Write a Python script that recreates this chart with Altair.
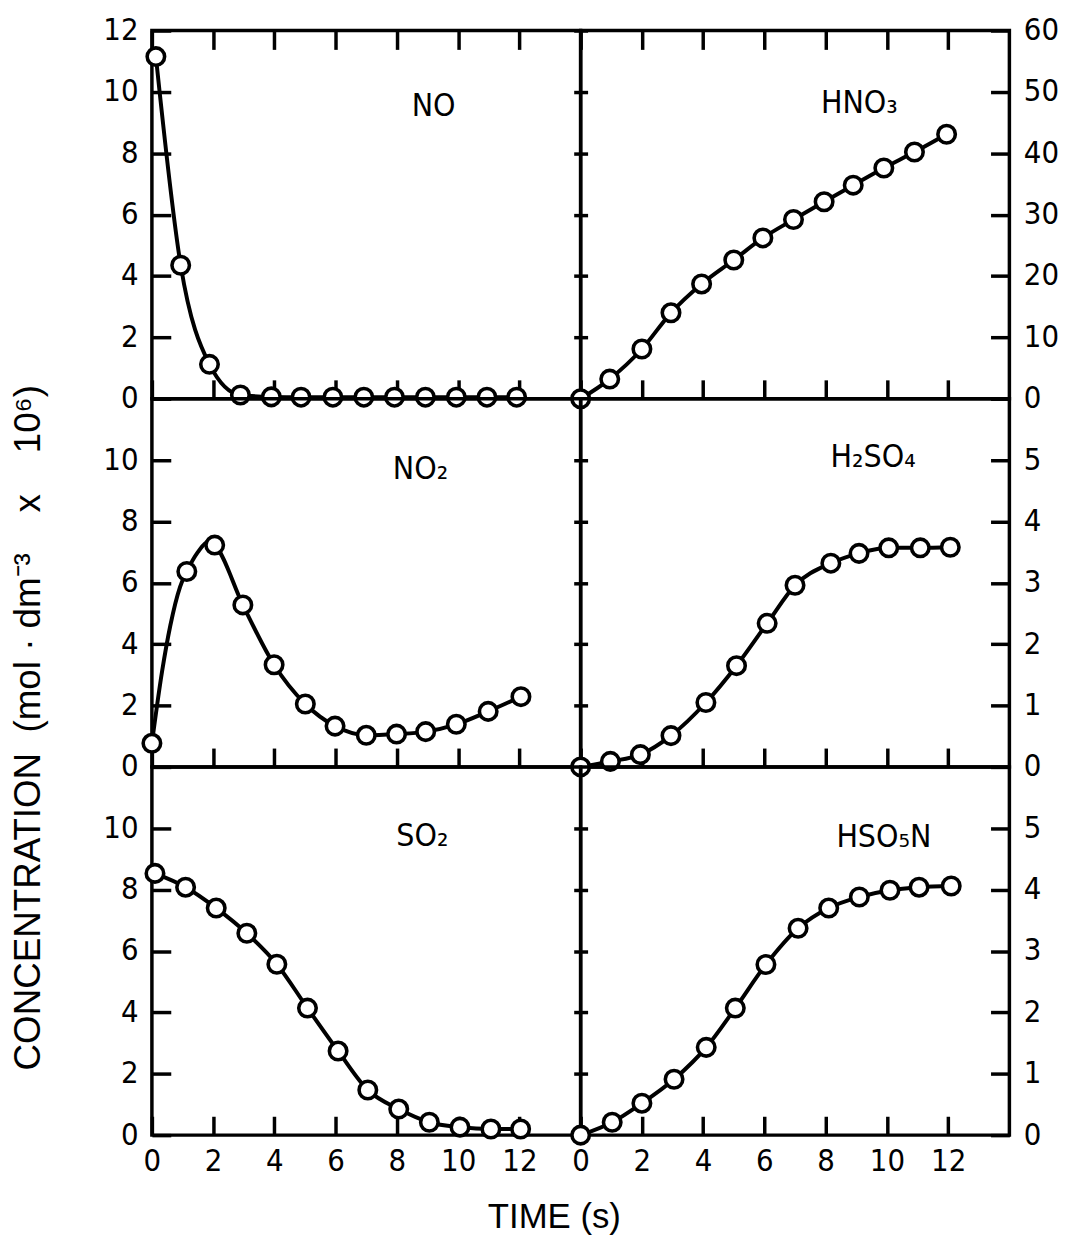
import altair as alt
import pandas as pd

# ---- data (time in s, concentration) ----
NO_t = [0.13, 0.94, 1.88, 2.89, 3.9, 4.87, 5.91, 6.92, 7.92, 8.93, 9.94, 10.94, 11.91]
NO_c = [11.15, 4.35, 1.12, 0.12, 0.06, 0.05, 0.05, 0.05, 0.05, 0.05, 0.05, 0.05, 0.05]

HNO3_t = [0, 0.95, 2.0, 2.95, 3.95, 5.0, 5.95, 6.95, 7.95, 8.9, 9.9, 10.9, 11.95]
HNO3_c = [0, 3.2, 8.1, 14.0, 18.7, 22.6, 26.2, 29.2, 32.1, 34.8, 37.6, 40.2, 43.1]

NO2_t = [0.0, 1.14, 2.05, 2.97, 3.99, 5.01, 5.98, 7.0, 7.99, 8.94, 9.94, 10.98, 12.05]
NO2_c = [0.77, 6.37, 7.23, 5.28, 3.33, 2.05, 1.33, 1.03, 1.07, 1.15, 1.39, 1.81, 2.29]
# fitted curve of NO2 (extra points)
NO2_curve_t = [0.0, 0.33, 0.6, 0.92, 1.14, 1.5, 1.85, 2.05, 2.97, 3.99, 5.01, 5.98, 7.0, 7.99, 8.94, 9.94, 10.98, 12.05]
NO2_curve_c = [0.77, 3.1, 4.6, 5.87, 6.37, 7.0, 7.35, 7.23, 5.28, 3.33, 2.05, 1.33, 1.03, 1.07, 1.15, 1.39, 1.81, 2.29]

H2SO4_t = [0, 0.97, 1.95, 2.95, 4.09, 5.09, 6.09, 7.0, 8.17, 9.09, 10.06, 11.09, 12.07]
H2SO4_c = [0, 0.09, 0.2, 0.51, 1.05, 1.65, 2.34, 2.96, 3.32, 3.48, 3.57, 3.57, 3.58]

SO2_t = [0.1, 1.1, 2.1, 3.1, 4.08, 5.08, 6.08, 7.05, 8.06, 9.06, 10.06, 11.07, 12.04]
SO2_c = [8.53, 8.08, 7.4, 6.58, 5.57, 4.14, 2.74, 1.47, 0.85, 0.42, 0.26, 0.2, 0.2]

HSO5N_t = [0, 1.03, 2.0, 3.05, 4.1, 5.05, 6.05, 7.1, 8.1, 9.1, 10.1, 11.05, 12.1]
HSO5N_c = [0, 0.21, 0.52, 0.91, 1.43, 2.07, 2.78, 3.37, 3.7, 3.88, 3.99, 4.04, 4.06]

LABELS = ["NO", "HNO₃", "NO₂", "H₂SO₄", "SO₂", "HSO₅N"]
LABEL_T = [9.2, 9.1, 8.77, 9.55, 8.83, 9.9]
LABEL_C = [9.2, 46.5, 9.38, 4.89, 9.41, 4.7]

X_TICKS = [0, 2, 4, 6, 8, 10, 12]
LEFT_TOP_TICKS = [0, 2, 4, 6, 8, 10, 12]
LEFT_TICKS = [0, 2, 4, 6, 8, 10]
RIGHT_TOP_TICKS = [0, 10, 20, 30, 40, 50, 60]
RIGHT_TICKS = [0, 1, 2, 3, 4, 5]

NB = "\u00a0"
X_TITLE = "TIME (s)"
Y_TITLE = ("CONCENTRATION" + NB * 2 + "(mol" + NB + "·" + NB + "dm⁻³" + NB * 4 +
           "x" + NB * 4 + "10⁶)")

NUM_FONT = "Liberation Sans Narrow, DejaVu Sans Condensed, Liberation Sans, sans-serif"
TXT_FONT = "Liberation Sans, Arial, sans-serif"
W, H = 432, 371
IN_TICK = {"expr": "-19"}
CROSS_TICK = {"expr": "-7"}


def panel(pt_t, pt_c, cv_t, cv_c, idx, ydomain, yvals, side, row):
    pts = pd.DataFrame({"t": pt_t, "c": pt_c})
    crv = pd.DataFrame({"t": cv_t, "c": cv_c})
    lab = pd.DataFrame({"t": [LABEL_T[idx]], "c": [LABEL_C[idx]], "s": [LABELS[idx]]})
    xs = alt.Scale(domain=[0, 14], nice=False, zero=False)
    ys = alt.Scale(domain=ydomain, nice=False, zero=False)
    bottom = row == 2

    xa = dict(orient="bottom", values=X_TICKS, tickSize=IN_TICK, labels=bottom,
              labelPadding=31, labelFont=NUM_FONT, labelFontSize=31,
              labelFlush=False, domain=False, grid=False)
    x_title = None
    if bottom and side == "left":
        x_title = X_TITLE
        xa.update(titleFont=TXT_FONT, titleFontSize=35, titleFontWeight="normal",
                  titleX=405, titleY=93, titleAlign="center",
                  titleBaseline="alphabetic")
    ya = dict(orient=side, values=yvals, tickSize=IN_TICK, labelPadding=33,
              labelFont=NUM_FONT, labelFontSize=31, labelFlush=False,
              labelOverlap=False, domain=False, grid=False)
    y_title = None
    if row == 1 and side == "left":
        y_title = Y_TITLE
        ya.update(titleFont=TXT_FONT, titleFontSize=37, titleFontWeight="normal",
                  titleX=-113, titleY=331, titleAngle=270, titleAlign="center",
                  titleBaseline="alphabetic")

    other = "right" if side == "left" else "left"
    ya2 = alt.Axis(orient=other, values=yvals, tickSize=CROSS_TICK, labels=False,
                   domain=False, grid=False)
    if row == 0:
        xa2 = alt.Axis(orient="top", values=X_TICKS, tickSize=IN_TICK, labels=False,
                       domain=False, grid=False)
    else:
        xa2 = None

    line = alt.Chart(crv).mark_line(color="black", strokeWidth=4,
                                    interpolate="monotone").encode(
        x=alt.X("t:Q", scale=xs, axis=alt.Axis(**xa), title=x_title),
        y=alt.Y("c:Q", scale=ys, axis=alt.Axis(**ya), title=y_title),
    )
    points = alt.Chart(pts).mark_circle(size=310, fill="white", stroke="black",
                                        strokeWidth=3.6, opacity=1).encode(
        x=alt.X("t:Q", scale=xs, axis=xa2, title=None),
        y=alt.Y("c:Q", scale=ys, axis=ya2, title=None),
    )
    text = alt.Chart(lab).mark_text(font=NUM_FONT, fontSize=32, align="center",
                                    baseline="alphabetic", color="black").encode(
        x=alt.X("t:Q", scale=xs, axis=None),
        y=alt.Y("c:Q", scale=ys, axis=None),
        text="s:N",
    )
    return (alt.layer(line, points, text)
            .resolve_axis(x="independent", y="independent")
            .properties(width=W, height=H))


panels = [
    panel(NO_t, NO_c, NO_t, NO_c, 0, [0, 12], LEFT_TOP_TICKS, "left", 0),
    panel(HNO3_t, HNO3_c, HNO3_t, HNO3_c, 1, [0, 60], RIGHT_TOP_TICKS, "right", 0),
    panel(NO2_t, NO2_c, NO2_curve_t, NO2_curve_c, 2, [0, 12], LEFT_TICKS, "left", 1),
    panel(H2SO4_t, H2SO4_c, H2SO4_t, H2SO4_c, 3, [0, 6], RIGHT_TICKS, "right", 1),
    panel(SO2_t, SO2_c, SO2_t, SO2_c, 4, [0, 12], LEFT_TICKS, "left", 2),
    panel(HSO5N_t, HSO5N_c, HSO5N_t, HSO5N_c, 5, [0, 6], RIGHT_TICKS, "right", 2),
]

chart = (
    alt.concat(*panels, columns=2, spacing=0, bounds="flush")
    .properties(padding={"left": 0, "top": 0, "right": 0, "bottom": 0})
    .configure_view(stroke="black", strokeWidth=3.5)
    .configure_axis(tickColor="black", tickWidth=3.5, labelColor="black",
                    titleColor="black")
)

chart.save("out.html", embed_options={"renderer": "svg", "actions": False})
